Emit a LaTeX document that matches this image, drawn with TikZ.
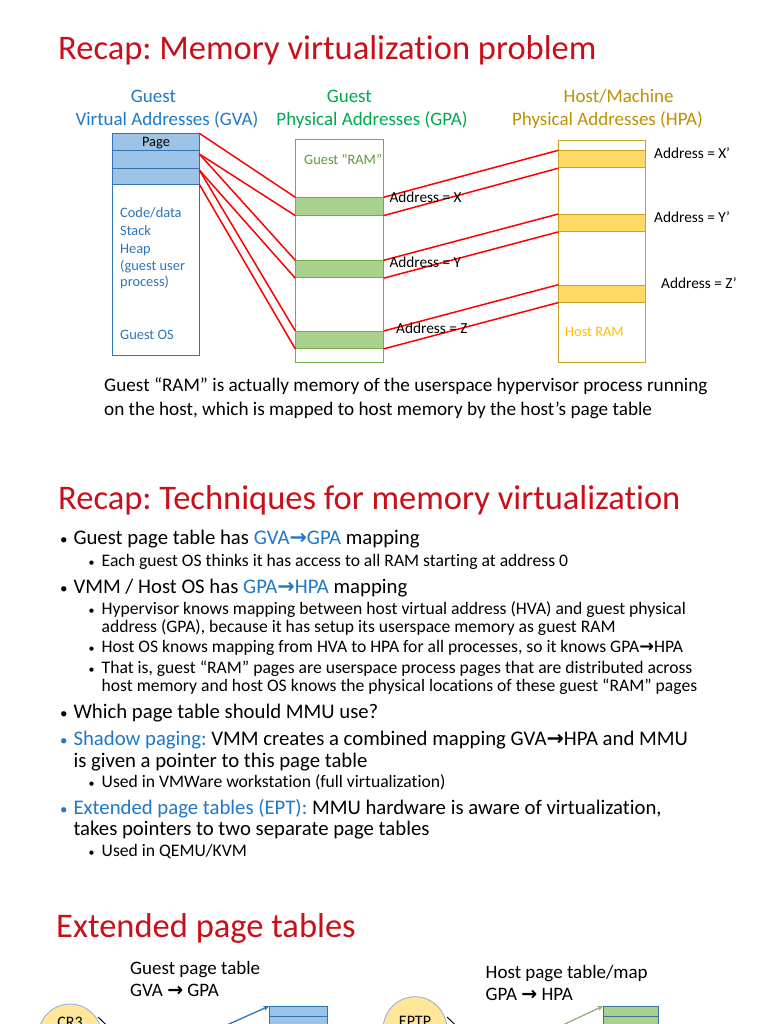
\documentclass[tikz,border=0pt]{standalone}
\usepackage{fontspec}
\setmainfont{Carlito}[Ligatures={NoCommon}]
\newfontfamily\arrfont{DejaVu Sans}
\usetikzlibrary{arrows.meta,shapes.geometric}
\frenchspacing
\definecolor{titlered}{HTML}{C8101A}
\definecolor{hblue}{HTML}{1F78C8}
\definecolor{hgreen}{HTML}{00A850}
\definecolor{hgold}{HTML}{BF9000}
\definecolor{boxblue}{HTML}{2E75B6}
\definecolor{rowblue}{HTML}{9DC3E6}
\definecolor{boxgreen}{HTML}{70AD47}
\definecolor{rowgreen}{HTML}{A9D18E}
\definecolor{ramgreen}{HTML}{5E9A3C}
\definecolor{boxgold}{HTML}{C9A227}
\definecolor{rowgold}{HTML}{FFD966}
\definecolor{hostram}{HTML}{FFC000}
\definecolor{redline}{HTML}{FF0000}
\definecolor{ellfill}{HTML}{FFE699}
\definecolor{ellline}{HTML}{8FAADC}
\definecolor{tabline}{HTML}{41719C}
\newcommand\ra{{\arrfont\bfseries →}}
\newcommand\bA{\llap{{\fontsize{15}{15}\selectfont•}\hspace{6pt}}}
\newcommand\bAb{\llap{{\fontsize{15}{15}\selectfont\textcolor{hblue}{•}}\hspace{6pt}}}
\newcommand\bB{\llap{{\fontsize{12}{12}\selectfont•}\hspace{7pt}}}
\begin{document}
\begin{tikzpicture}[x=1pt,y=-1pt,
  txt/.style={inner sep=0pt, anchor=base west},
  title/.style={txt, text=titlered, font=\fontsize{34.5}{40}\selectfont},
  hdr/.style={inner sep=0pt, anchor=base, font=\fontsize{19}{22}\selectfont},
  boxtxt/.style={txt, font=\fontsize{14.4}{17}\selectfont},
  addr/.style={txt, font=\fontsize{15.3}{18}\selectfont},
  lone/.style={txt, font=\fontsize{20.75}{24}\selectfont},
  ltwo/.style={txt, font=\fontsize{17.6}{20}\selectfont},
  captxt/.style={txt, font=\fontsize{19.2}{22}\selectfont},
  bt/.style={txt, font=\fontsize{19}{22}\selectfont},
  cell/.style={draw, inner sep=0pt, anchor=north west, line width=0.9pt},
  redl/.style={draw=redline, line width=1.5pt},
]
\useasboundingbox (0,0) rectangle (768,1024);
\fill[white] (0,0) rectangle (768,1024);

% ---------- Slide 1 ----------
\node[title] (t1) at (58,60) {Recap: Memory virtualization problem};

\node[hdr, text=hblue] (h1a) at (153.5,102.7) {Guest};
\node[hdr, text=hblue] (h1b) at (167,125.7) {Virtual Addresses (GVA)};
\node[hdr, text=hgreen] (h2a) at (349.3,102.7) {Guest};
\node[hdr, text=hgreen] (h2b) at (372,125.7) {Physical Addresses (GPA)};
\node[hdr, text=hgold] (h3a) at (618.7,102.7) {Host/Machine};
\node[hdr, text=hgold] (h3b) at (607.5,125.7) {Physical Addresses (HPA)};

% GVA column
\node[cell, draw=boxblue, fill=white, minimum width=87pt, minimum height=222.6pt] (gva) at (112.3,132.7) {};
\node[cell, draw=boxblue, fill=rowblue, minimum width=87pt, minimum height=17.6pt] (p1) at (112.3,132.7) {};
\node[cell, draw=boxblue, fill=rowblue, minimum width=87pt, minimum height=17.4pt] (p2) at (112.3,150.3) {};
\node[cell, draw=boxblue, fill=rowblue, minimum width=87pt, minimum height=16.6pt] (p3) at (112.3,167.7) {};
\node[inner sep=0pt, anchor=base, font=\fontsize{14.4}{17}\selectfont] (pg) at (156,146.7) {Page};
\node[boxtxt, text=boxblue] (cd) at (120,217.7) {Code/data};
\node[boxtxt, text=boxblue] (st) at (120,235.7) {Stack};
\node[boxtxt, text=boxblue] (hp) at (120,253) {Heap};
\node[boxtxt, text=boxblue] (gu) at (120,270) {(guest user};
\node[boxtxt, text=boxblue] (pr) at (120,286.7) {process)};
\node[boxtxt, text=boxblue] (go) at (120,339) {Guest OS};

% GPA column
\node[cell, draw=boxgreen, fill=white, minimum width=87.4pt, minimum height=222.4pt] (gpa) at (295.3,139.3) {};
\node[cell, draw=boxgreen, fill=rowgreen, minimum width=87.4pt, minimum height=17.4pt] (g1) at (295.3,197.3) {};
\node[cell, draw=boxgreen, fill=rowgreen, minimum width=87.4pt, minimum height=17pt] (g2) at (295.3,260.3) {};
\node[cell, draw=boxgreen, fill=rowgreen, minimum width=87.4pt, minimum height=17pt] (g3) at (295.3,331) {};
\node[boxtxt, text=ramgreen] (gram) at (304,164.3) {Guest “RAM”};

% HPA column
\node[cell, draw=boxgold, fill=white, minimum width=87pt, minimum height=221.7pt] (hpa) at (558.3,140) {};
\node[cell, draw=boxgold, fill=rowgold, minimum width=87pt, minimum height=17pt] (y1) at (558.3,150.3) {};
\node[cell, draw=boxgold, fill=rowgold, minimum width=87pt, minimum height=17pt] (y2) at (558.3,214) {};
\node[cell, draw=boxgold, fill=rowgold, minimum width=87pt, minimum height=17pt] (y3) at (558.3,284.7) {};
\node[boxtxt, text=hostram] (hram) at (565,336.7) {Host RAM};

% line anchors on GVA edge
\coordinate (s1) at (199.3,133.3);
\coordinate (s2) at (199.3,154);
\coordinate (s3) at (199.3,170);
\coordinate (s4) at (199.3,184.3);

\draw[redl] (s1) -- (g1.north west);
\draw[redl] (s2) -- (g1.south west);
\draw[redl] (s2) -- (g2.north west);
\draw[redl] (s3) -- (g2.south west);
\draw[redl] (s3) -- (g3.north west);
\draw[redl] (s4) -- (g3.south west);

\draw[redl] (g1.north east) -- (y1.north west);
\draw[redl] (g1.south east) -- (y1.south west);
\draw[redl] (g2.north east) -- (y2.north west);
\draw[redl] (g2.south east) -- (y2.south west);
\draw[redl] (g3.north east) -- (y3.north west);
\draw[redl] (g3.south east) -- (y3.south west);

\node[addr] (ax) at (389.3,202.7) {Address = X};
\node[addr] (ay) at (389.3,267) {Address = Y};
\node[addr] (az) at (396,333.3) {Address = Z};
\node[addr] (axp) at (654,158.3) {Address = X’};
\node[addr] (ayp) at (654,222.7) {Address = Y’};
\node[addr] (azp) at (661,288.7) {Address = Z’};

\node[captxt] (c1) at (104,391) {Guest “RAM” is actually memory of the userspace hypervisor process running};
\node[captxt] (c2) at (104,415) {on the host, which is mapped to host memory by the host’s page table};

% ---------- Slide 2 ----------
\node[title] (t2) at (58,509) {Recap: Techniques for memory virtualization};

\node[lone] (l1) at (73.3,544) {\bA Guest page table has \textcolor{hblue}{GVA\ra GPA} mapping};
\node[ltwo] (l2) at (101.5,566) {\bB Each guest OS thinks it has access to all RAM starting at address 0};
\node[lone] (l3) at (73.3,593) {\bA VMM / Host OS has \textcolor{hblue}{GPA\ra HPA} mapping};
\node[ltwo] (l4) at (101.5,614) {\bB Hypervisor knows mapping between host virtual address (HVA) and guest physical};
\node[ltwo] (l5) at (101.5,632) {address (GPA), because it has setup its userspace memory as guest RAM};
\node[ltwo] (l6) at (101.5,652) {\bB Host OS knows mapping from HVA to HPA for all processes, so it knows GPA\ra HPA};
\node[ltwo] (l7) at (101.5,673) {\bB That is, guest “RAM” pages are userspace process pages that are distributed across};
\node[ltwo] (l8) at (101.5,691) {host memory and host OS knows the physical locations of these guest “RAM” pages};
\node[lone] (l9) at (73.3,718) {\bA Which page table should MMU use?};
\node[lone] (l10) at (73.3,745) {\bAb\textcolor{hblue}{Shadow paging:} VMM creates a combined mapping GVA\ra HPA and MMU};
\node[lone] (l11) at (73.3,767) {is given a pointer to this page table};
\node[ltwo] (l12) at (101.5,787) {\bB Used in VMWare workstation (full virtualization)};
\node[lone] (l13) at (73.3,814) {\bAb\textcolor{hblue}{Extended page tables (EPT):} MMU hardware is aware of virtualization,};
\node[lone] (l14) at (73.3,835) {takes pointers to two separate page tables};
\node[ltwo] (l15) at (101.5,856) {\bB Used in QEMU/KVM};

% ---------- Slide 3 ----------
\node[title] (t3) at (56,937) {Extended page tables};

\node[bt] (gpt) at (130,974) {Guest page table};
\node[bt] (gpt2) at (130,996.7) {GVA \ra{} GPA};
\node[bt] (hpt) at (485.5,978.3) {Host page table/map};
\node[bt] (hpt2) at (485.5,1000.7) {GPA \ra{} HPA};

\node[draw=ellline, fill=ellfill, ellipse, line width=0.8pt, minimum width=64pt, minimum height=66pt, inner sep=0pt] (cr3) at (70,1037) {};
\node[inner sep=0pt, anchor=base, font=\fontsize{16}{19}\selectfont] (cr3t) at (70,1027.5) {CR3};
\node[draw=ellline, fill=ellfill, ellipse, line width=0.8pt, minimum width=64pt, minimum height=66pt, inner sep=0pt] (eptp) at (415,1029.7) {};
\node[inner sep=0pt, anchor=base, font=\fontsize{16}{19}\selectfont] (eptpt) at (415,1026.5) {EPTP};

\node[cell, draw=boxblue, fill=rowblue, minimum width=57.4pt, minimum height=9.7pt, line width=0.7pt] (bt1) at (269.3,1006) {};
\node[cell, draw=boxblue, fill=rowblue, minimum width=57.4pt, minimum height=12pt, line width=0.7pt] (bt2) at (269.3,1015.7) {};
\node[cell, draw=tabline, fill=rowgreen, minimum width=55pt, minimum height=9.7pt, line width=0.7pt] (gt1) at (603.3,1006) {};
\node[cell, draw=tabline, fill=rowgreen, minimum width=55pt, minimum height=12pt, line width=0.7pt] (gt2) at (603.3,1015.7) {};

\coordinate (cr3a) at (98,1017);
\coordinate (cr3out) at (122,1040);
\coordinate (eptpa) at (447,1017);
\coordinate (eptpout) at (471,1040);
\coordinate (blin) at (180,1046);
\coordinate (glin) at (518,1046);
\draw[line width=1pt] (cr3a) -- (cr3out);
\draw[line width=1pt] (eptpa) -- (eptpout);
\draw[boxblue, line width=1.3pt, -{Stealth[length=6pt,width=5pt]}] (blin) -- (bt1.north west);
\draw[rowgreen!85!black, line width=1.3pt, -{Stealth[length=6pt,width=5pt]}] (glin) -- (gt1.north west);
\end{tikzpicture}
\end{document}
